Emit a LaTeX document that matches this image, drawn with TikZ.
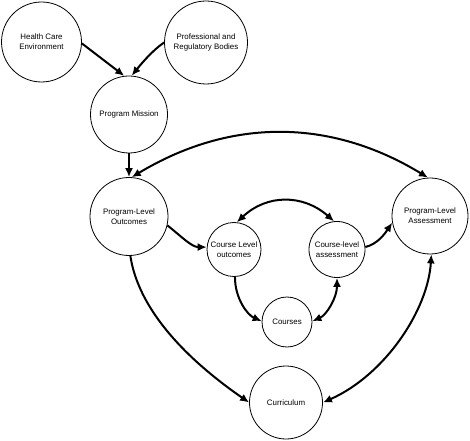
\documentclass[tikz,border=0pt]{standalone}
\usepackage{fontspec}
\setmainfont{Liberation Sans}
\usetikzlibrary{arrows.meta}
\begin{document}
\begin{tikzpicture}[x=1bp,y=-1bp,
  bub/.style={draw=black,line width=0.8bp,circle,inner sep=0pt,align=center,
    font=\fontsize{7.9bp}{10bp}\selectfont},
  conn/.style={line width=2bp,-{Latex[length=9bp,width=8bp]}},
  conn2/.style={line width=2bp,{Latex[length=9bp,width=8bp]}-{Latex[length=9bp,width=8bp]}}]
\useasboundingbox (0,0) rectangle (470,441);
\node[bub,minimum size=80bp] (hce) at (41.5,42) {Health Care\\Environment};
\node[bub,minimum size=83bp] (prb) at (206,42.5) {Professional and\\Regulatory Bodies};
\node[bub,minimum size=77bp] (pm) at (129,114.5) {Program Mission};
\node[bub,minimum size=78bp] (plo) at (129,216.5) {Program-Level\\Outcomes};
\node[bub,minimum size=54bp] (clo) at (234,249.5) {Course Level\\outcomes};
\node[bub,minimum size=56bp] (cla) at (337,249.5) {Course-level\\assessment};
\node[bub,minimum size=76bp] (pla) at (430,216) {Program-Level\\Assessment};
\node[bub,minimum size=50bp] (crs) at (287,322) {Courses};
\node[bub,minimum size=73bp] (cur) at (286,402.5) {Curriculum};
% top inputs
\draw[conn] (hce.-2) -- (pm.97);
\draw[conn] (prb.180) .. controls +(-12,8) and +(8,-10) .. (pm.86);
\draw[conn] (pm.south) -- (plo.north);
% big arc
\draw[conn2] (plo.86) .. controls (230,118) and (330,118) .. (pla.93);
% plo -> clo
\draw[conn] (plo.-13) .. controls +(15,12) and +(-15,0) .. (clo.175);
% clo <-> cla
\draw[conn2] (clo.84) .. controls (267,194) and (303,194) .. (cla.96);
% cla -> pla
\draw[conn] (cla.5) .. controls +(12,-3) and +(-8,12) .. (pla.190);
% clo -> courses
\draw[conn] (clo.-88) .. controls +(0,22) and +(-14,-6) .. (crs.178);
% courses <-> cla
\draw[conn2] (crs.2) .. controls +(14,-6) and +(0,20) .. (cla.-90);
% plo -> curriculum
\draw[conn] (plo.-88) .. controls (140,320) and (205,372) .. (cur.180);
% curriculum <-> pla
\draw[conn2] (cur.0) .. controls (385,375) and (428,310) .. (pla.-88);
\end{tikzpicture}
\end{document}
